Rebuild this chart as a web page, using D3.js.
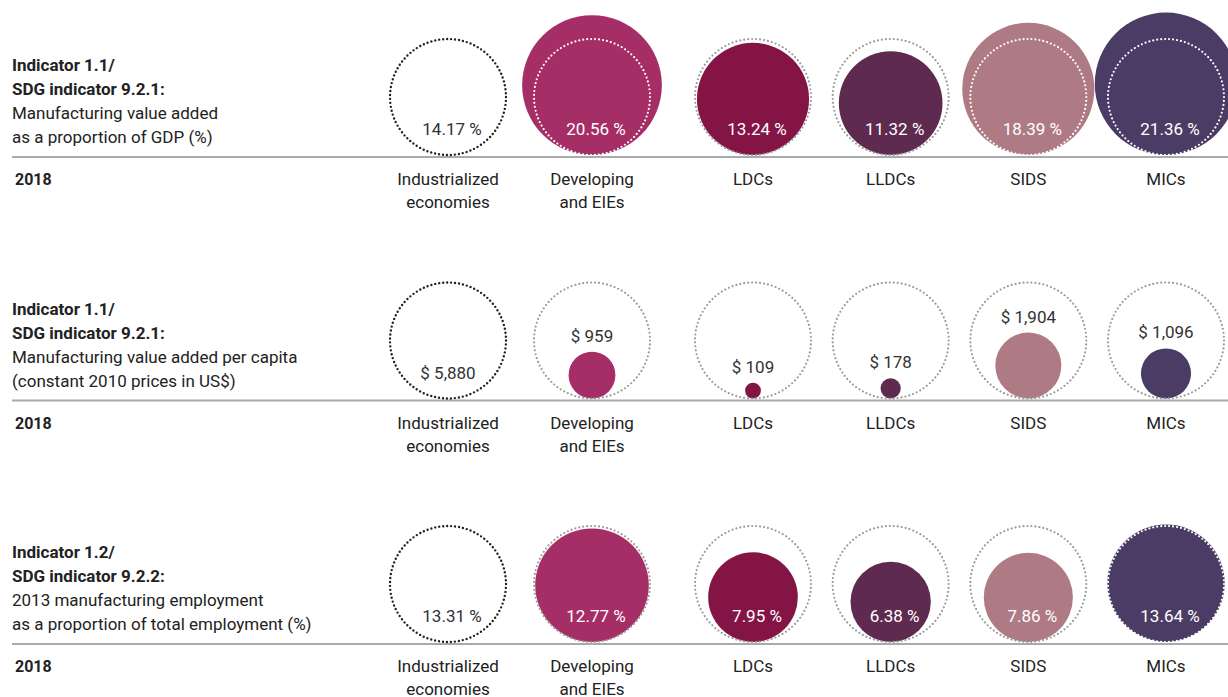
<!DOCTYPE html>
<html>
<head>
<meta charset="utf-8">
<script src="https://cdn.jsdelivr.net/npm/d3@7"></script>
<style>
  body { margin: 0; background: #fff; }
  svg { display: block; font-family: Roboto, "Liberation Sans", sans-serif; }
</style>
</head>
<body>
<div id="chart"></div>
<script>
// categories (columns)
var categories = ["Industrialized economies", "Developing and EIEs", "LDCs", "LLDCs", "SIDS", "MICs"];
var categoryLines = [["Industrialized", "economies"], ["Developing", "and EIEs"], ["LDCs"], ["LLDCs"], ["SIDS"], ["MICs"]];

// values per indicator
var mvaShareGdp = [14.17, 20.56, 13.24, 11.32, 18.39, 21.36];
var mvaPerCapita = [5880, 959, 109, 178, 1904, 1096];
var mfgEmploymentShare = [13.31, 12.77, 7.95, 6.38, 7.86, 13.64];

// row titles
var title1 = ["Indicator 1.1/", "SDG indicator 9.2.1:", "Manufacturing value added", "as a proportion of GDP (%)"];
var title2 = ["Indicator 1.1/", "SDG indicator 9.2.1:", "Manufacturing value added per capita", "(constant 2010 prices in US$)"];
var title3 = ["Indicator 1.2/", "SDG indicator 9.2.2:", "2013 manufacturing employment", "as a proportion of total employment (%)"];
var years = ["2018", "2018", "2018"];

// colours per column
var colors = ["none", "#a62e67", "#831445", "#5f2a50", "#ae7b85", "#4a3c64"];

var pct = function(v) { return d3.format(".2f")(v) + " %"; };
var usd = function(v) { return "$ " + d3.format(",")(v); };

var rows = [
  { title: title1, values: mvaShareGdp, fmt: pct, labelAbove: false },
  { title: title2, values: mvaPerCapita, fmt: usd, labelAbove: true },
  { title: title3, values: mfgEmploymentShare, fmt: pct, labelAbove: false }
];

var width = 1228, height = 697;
var refRadius = 58;

var svg = d3.select("#chart")
  .append("svg")
    .attr("width", width)
    .attr("height", height);

// column positions: the two main groups, then the four country groups
var mainGroups = categories.slice(0, 2),
    subGroups = categories.slice(2);
var xMain = d3.scalePoint().domain(mainGroups).range([448, 592]);
var xSub = d3.scalePoint().domain(subGroups).range([753, 1166]);
var x = function(c) { return mainGroups.indexOf(c) >= 0 ? xMain(c) : xSub(c); };

var rowY = d3.scalePoint()
  .domain(d3.range(rows.length))
  .range([157, 644]);

rows.forEach(function(row, ri) {
  var g = svg.append("g")
    .attr("transform", "translate(0," + rowY(ri) + ")");

  // indicator title
  g.selectAll(".title")
    .data(row.title)
    .enter()
    .append("text")
      .attr("x", 12)
      .attr("y", function(d, j) { return -86 + j * 24; })
      .attr("font-size", 17)
      .attr("font-weight", function(d, j) { return j < 2 ? 700 : 400; })
      .attr("fill", "#222")
      .text(function(d) { return d; });

  // baseline
  g.append("line")
    .attr("x1", 12)
    .attr("x2", width)
    .attr("y1", 0)
    .attr("y2", 0)
    .attr("stroke", "#aaa")
    .attr("stroke-width", 2);

  g.append("text")
    .attr("x", 15)
    .attr("y", 28)
    .attr("font-size", 16)
    .attr("font-weight", 700)
    .attr("fill", "#222")
    .text(years[ri]);

  // category labels
  var cat = g.selectAll(".cat")
    .data(categories)
    .enter()
    .append("text")
      .attr("text-anchor", "middle")
      .attr("font-size", 17)
      .attr("fill", "#222");
  cat.each(function(d, i) {
    d3.select(this).selectAll("tspan")
      .data(categoryLines[i])
      .enter()
      .append("tspan")
        .attr("x", x(d))
        .attr("y", function(t, j) { return 28 + j * 23; })
        .text(function(t) { return t; });
  });

  // radius scale: industrialized economies is the reference ring
  var r = d3.scaleSqrt()
    .domain([0, row.values[0]])
    .range([0, refRadius]);

  var data = categories.map(function(c, i) {
    return { cat: c, value: row.values[i], i: i };
  });

  // filled circles
  g.selectAll(".bubble")
    .data(data.filter(function(d) { return d.i > 0; }))
    .enter()
    .append("circle")
      .attr("cx", function(d) { return x(d.cat); })
      .attr("cy", function(d) { return -r(d.value) - 2; })
      .attr("r", function(d) { return r(d.value); })
      .attr("fill", function(d) { return colors[d.i]; });

  // dotted reference rings
  g.selectAll(".ring")
    .data(data)
    .enter()
    .append("circle")
      .attr("cx", function(d) { return x(d.cat); })
      .attr("cy", -refRadius - 2)
      .attr("r", refRadius)
      .attr("fill", "none")
      .attr("stroke", function(d) {
        if (d.i === 0) return "#222";
        return r(d.value) > refRadius ? "#fff" : "#9a9a9a";
      })
      .attr("stroke-width", function(d) { return d.i === 0 ? 2.4 : 2.2; })
      .attr("stroke-linecap", "round")
      .attr("stroke-dasharray", "0 4");

  // value labels
  g.selectAll(".val")
    .data(data)
    .enter()
    .append("text")
      .attr("x", function(d) { return x(d.cat) + (row.labelAbove ? 0 : 4); })
      .attr("y", function(d) {
        if (!row.labelAbove || d.i === 0) return -22;
        return -2 * r(d.value) - 12;
      })
      .attr("text-anchor", "middle")
      .attr("font-size", 17)
      .attr("fill", function(d) { return (row.labelAbove || d.i === 0) ? "#333" : "#fff"; })
      .text(function(d) { return row.fmt(d.value); });
});
</script>
</body>
</html>
